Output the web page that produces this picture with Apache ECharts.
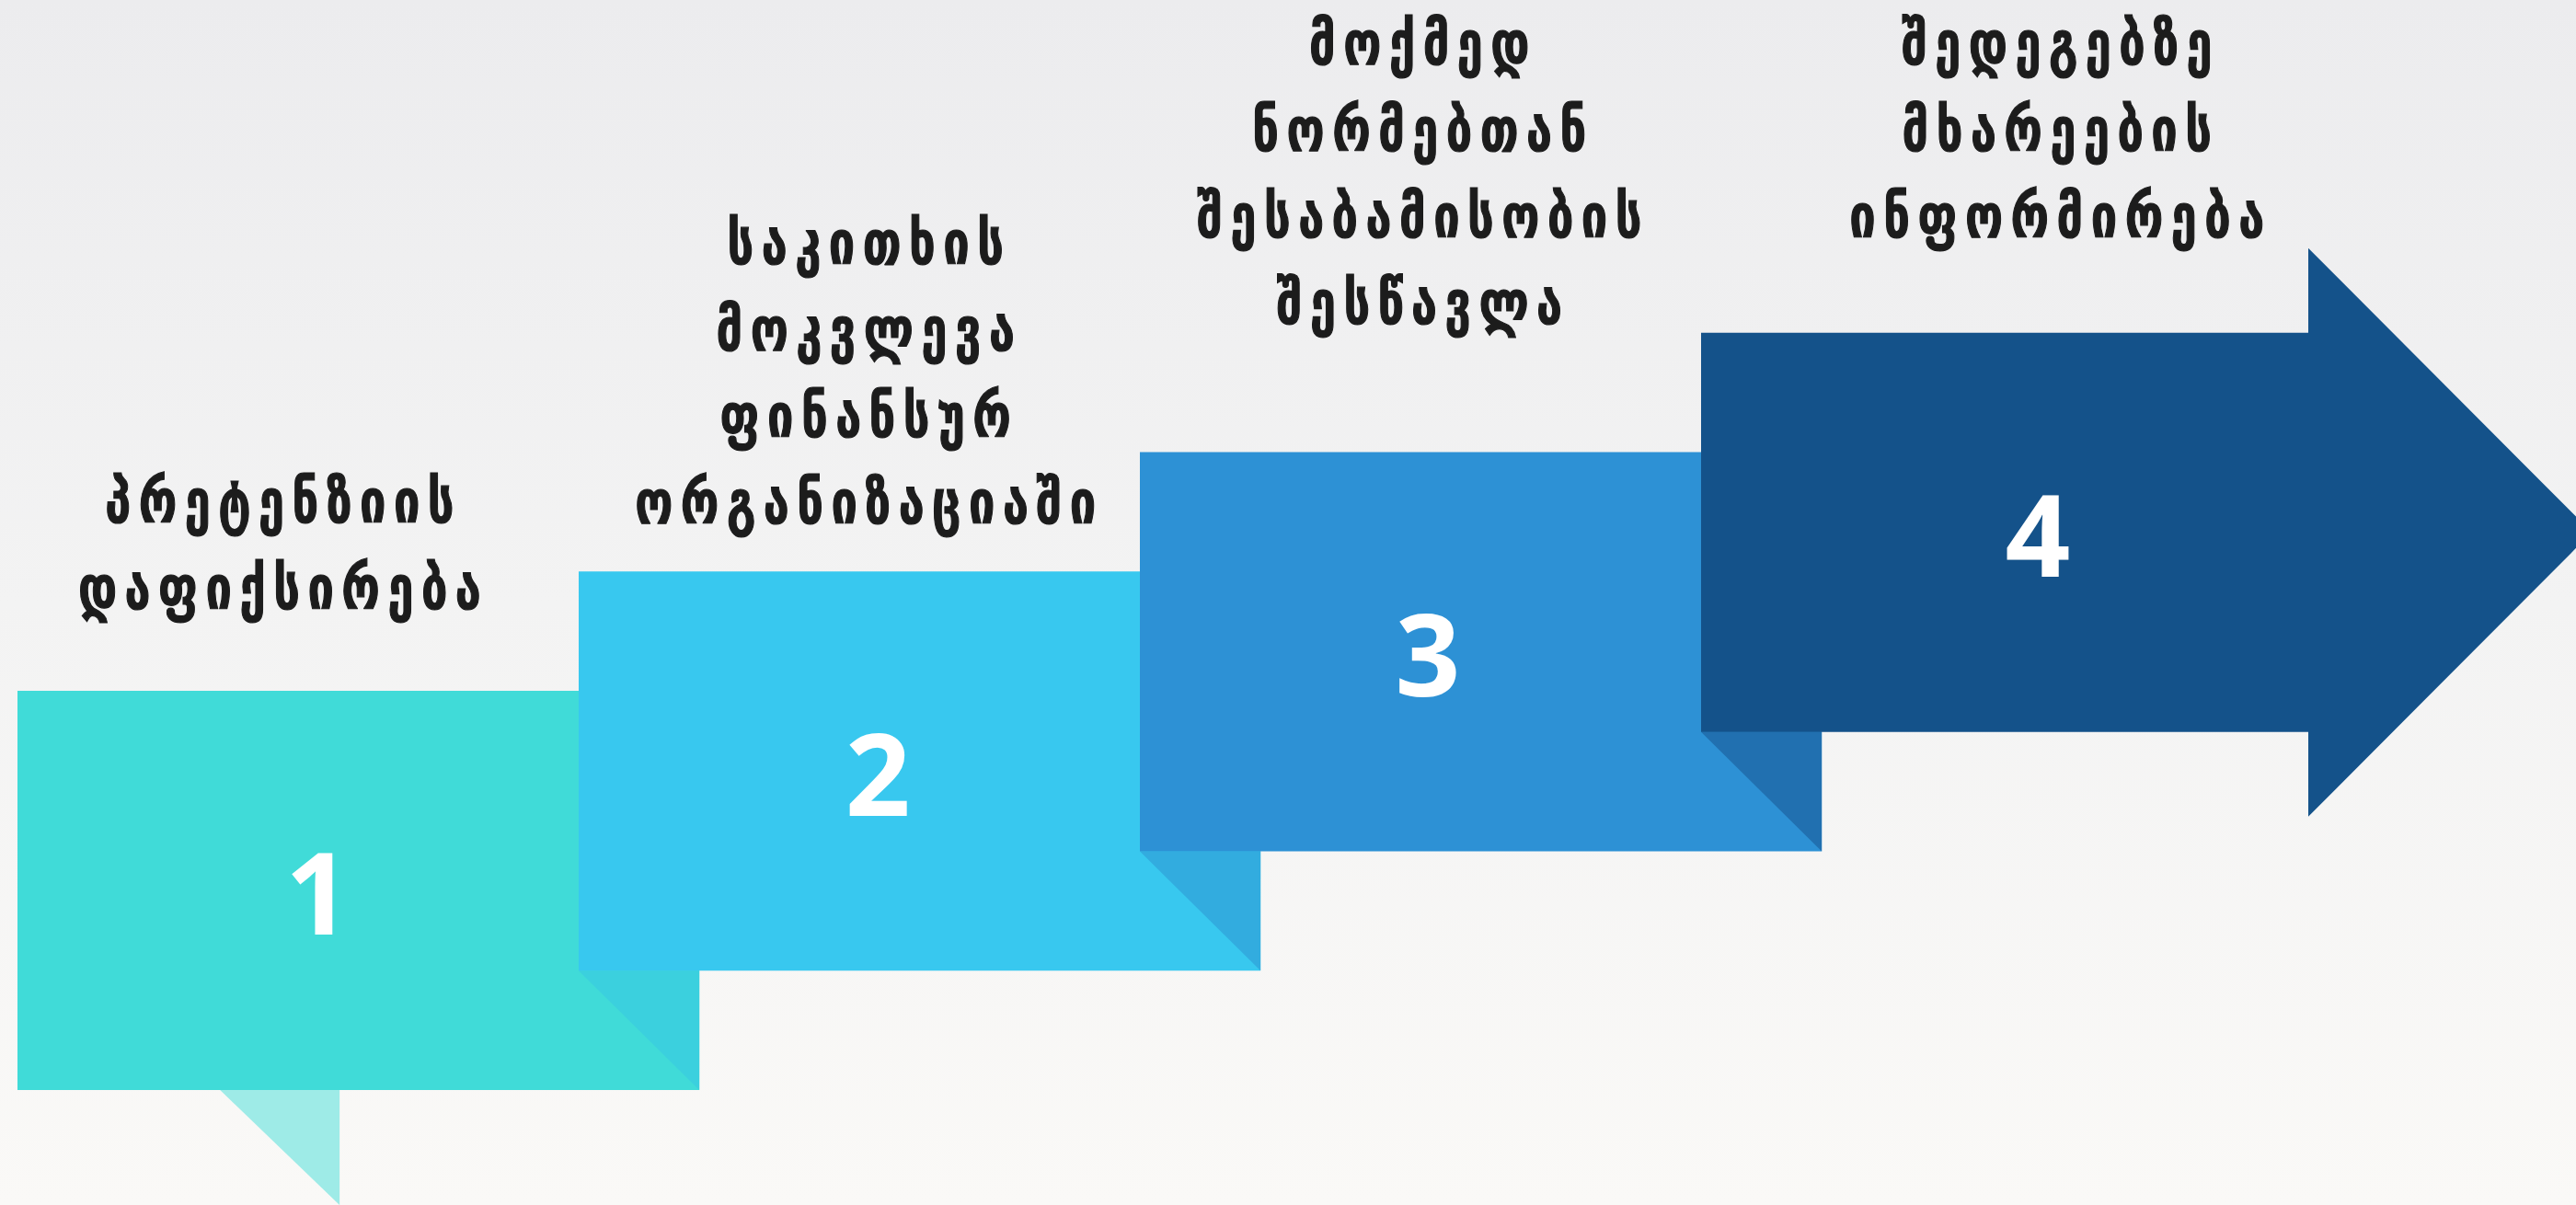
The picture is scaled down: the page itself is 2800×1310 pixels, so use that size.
<!DOCTYPE html>
<html>
<head>
<meta charset="utf-8">
<script src="https://cdn.jsdelivr.net/npm/echarts@6/dist/echarts.min.js"></script>
<style>
  html, body { margin: 0; padding: 0; width: 2800px; height: 1310px; overflow: hidden; }
  #chart { width: 2800px; height: 1310px; }
  #chart svg text { letter-spacing: 10px; }
  #chart svg text[style*="Open Sans"], #chart svg text[font-family*="Open Sans"] { letter-spacing: 0; }
</style>
</head>
<body>
<div id="chart"></div>
<script>
// ---- data ----
const stepNumbers = ['1', '2', '3', '4'];
const stepLevels = [0, 1, 2, 3];
const stepLabels = [
  'პრეტენზიის\nდაფიქსირება',
  'საკითხის\nმოკვლევა\nფინანსურ\nორგანიზაციაში',
  'მოქმედ\nნორმებთან\nშესაბამისობის\nშესწავლა',
  'შედეგებზე\nმხარეების\nინფორმირება'
];

// ---- styles / layout (axis units) ----
const mainColors = ['#40dbd8', '#38c8ef', '#2d91d5', '#14528a'];
const foldColors = ['#3bd0de', '#32acdf', '#2170b0', '#14528a'];
const tailColor = '#9eebe7';
const BW = 1.215;          // box width
const BH = 3.345;          // box height
const ARROW_BODY = 1.082;  // last box body width
const ARROW_EXT = 0.709;   // arrowhead overhang
const ARROW_LEN = 0.505;   // arrowhead length
const numberOffsetX = [0.535, 0.533, 0.513, 0.60];
const labelOffsetX = [0.467, 0.511, 0.498, 0.634];
const labelFirstLineY = [4.93, 7.10, 8.77, 8.77];
const LABEL_SCALE_X = 0.85;
const LETTER_SPACING = 10;

const chart = echarts.init(document.getElementById('chart'), null, { renderer: 'svg' });

function renderItem(params, api) {
  const i = api.value(0);
  const lv = api.value(1);
  const idx = params.dataIndex;
  const P = (x, y) => api.coord([x, y]);
  const children = [];
  const last = idx === stepNumbers.length - 1;

  if (idx === 0) {
    children.push({
      type: 'polygon',
      shape: { points: [P(i + 0.361, lv), P(i + 0.574, lv), P(i + 0.574, lv - 0.964)] },
      style: { fill: tailColor }
    });
  }
  if (!last) {
    children.push({
      type: 'polygon',
      shape: { points: [P(i, lv), P(i + BW, lv), P(i + BW, lv + BH), P(i, lv + BH)] },
      style: { fill: mainColors[idx] }
    });
    children.push({
      type: 'polygon',
      shape: { points: [P(i + 1, lv + 1), P(i + BW, lv + 1), P(i + BW, lv)] },
      style: { fill: foldColors[idx] }
    });
  } else {
    const mid = lv + BH / 2;
    const half = BH / 2 + ARROW_EXT;
    children.push({
      type: 'polygon',
      shape: { points: [
        P(i, lv), P(i + ARROW_BODY, lv), P(i + ARROW_BODY, mid - half),
        P(i + ARROW_BODY + ARROW_LEN, mid),
        P(i + ARROW_BODY, mid + half), P(i + ARROW_BODY, lv + BH), P(i, lv + BH)
      ] },
      style: { fill: mainColors[idx] }
    });
  }
  const np = P(i + numberOffsetX[idx], lv + BH / 2);
  children.push({
    type: 'text',
    x: np[0], y: np[1],
    style: {
      text: stepNumbers[idx],
      fill: '#ffffff',
      font: 'bold 124px "Open Sans"',
      align: 'center',
      verticalAlign: 'middle'
    }
  });
  const lp = P(i + labelOffsetX[idx], labelFirstLineY[idx]);
  children.push({
    type: 'text',
    x: lp[0] + LETTER_SPACING * LABEL_SCALE_X / 2,
    y: lp[1] - 47,
    scaleX: LABEL_SCALE_X,
    style: {
      text: stepLabels[idx],
      fill: '#1c1c1c',
      stroke: '#1c1c1c',
      lineWidth: 1.2,
      font: 'bold 66px "DejaVu Sans Condensed"',
      lineHeight: 94,
      align: 'center',
      verticalAlign: 'top'
    }
  });
  return { type: 'group', children: children };
}

chart.setOption({
  backgroundColor: {
    type: 'linear', x: 0, y: 0, x2: 0, y2: 1,
    colorStops: [
      { offset: 0, color: '#ececee' },
      { offset: 0.5, color: '#f3f3f3' },
      { offset: 1, color: '#faf9f7' }
    ]
  },
  animation: false,
  grid: { left: 19, top: 666, width: 2440, height: 519 },
  xAxis: { type: 'value', min: 0, max: 4, show: false },
  yAxis: { type: 'value', min: 0, max: 4, show: false },
  series: [{
    type: 'custom',
    clip: false,
    renderItem: renderItem,
    data: stepNumbers.map((s, k) => [k, stepLevels[k]])
  }]
});
</script>
</body>
</html>
